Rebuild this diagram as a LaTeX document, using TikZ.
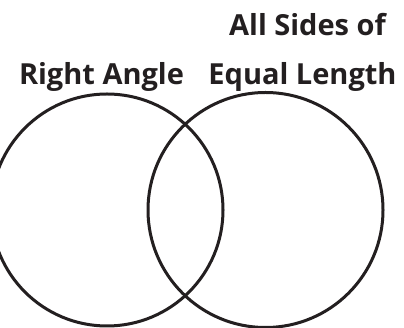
\documentclass[tikz,border=0pt]{standalone}
\usepackage{fontspec}
\setmainfont{Open Sans}
\definecolor{ink}{HTML}{231F20}

\tikzstyle{set} = [circle, draw=ink, line width=3pt, inner sep=0pt]
\tikzstyle{title} = [anchor=base, inner sep=0pt, text=ink, font=\fontsize{29}{34}\selectfont\bfseries]

\begin{document}
\begin{tikzpicture}[x=1pt, y=-1pt]
\useasboundingbox (0,0) rectangle (404,328);
\node[set, minimum size=232pt] (right angle) at (107,210) {};
\node[set, minimum size=235pt] (equal sides) at (265.5,210) {};
\node[title] (ra) at (101.5,85) {Right Angle};
\node[title] (el) at (302.5,85) {Equal Length};
\node[title] (as) at (307.5,36) {All Sides of};
\end{tikzpicture}
\end{document}
